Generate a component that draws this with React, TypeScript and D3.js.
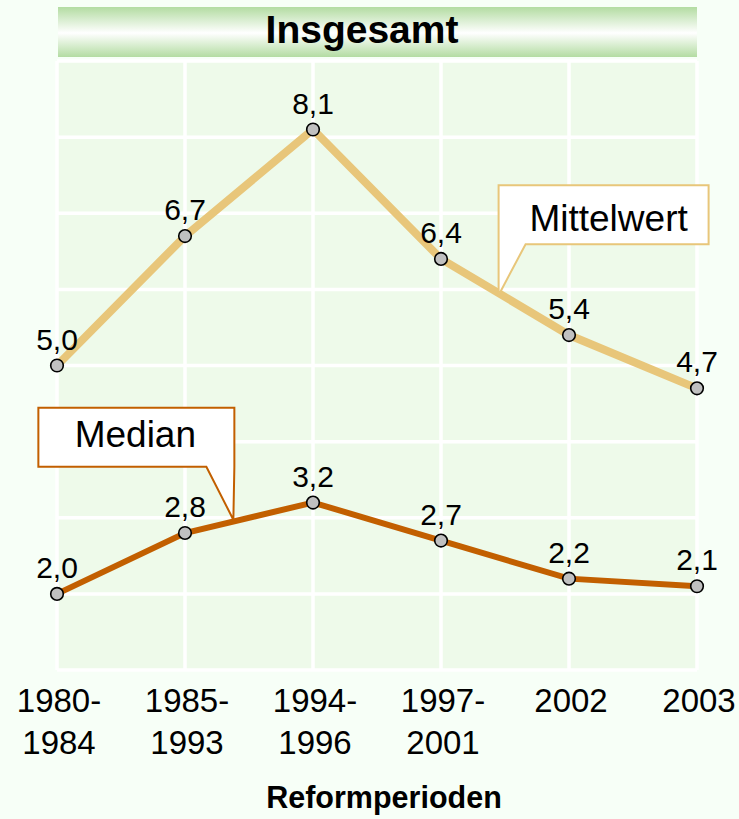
import { useEffect } from "react";
import * as d3 from "d3";

const periods = ["1980-1984", "1985-1993", "1994-1996", "1997-2001", "2002", "2003"];
const tickLines = [["1980-", "1984"], ["1985-", "1993"], ["1994-", "1996"], ["1997-", "2001"], ["2002"], ["2003"]];
const mittelwert = [5.0, 6.7, 8.1, 6.4, 5.4, 4.7];
const median = [2.0, 2.8, 3.2, 2.7, 2.2, 2.1];
const yTicks = [1, 2, 3, 4, 5, 6, 7, 8, 9];

const W = 739;
const H = 819;
const FONT = "'Liberation Sans', Arial, Helvetica, sans-serif";
const MEAN_COLOR = "#e8c67a";
const MEDIAN_COLOR = "#c25f00";

const fmt = (v: number) => v.toFixed(1).replace(".", ",");

export default function App() {
  useEffect(() => {
    document.body.style.margin = "0";
    document.body.style.background = "#f7fff7";
  }, []);

  const x = d3.scalePoint<string>().domain(periods).range([57, 697]);
  const y = d3.scaleLinear().domain([1, 9]).range([670, 61]);

  const line = d3
    .line<number>()
    .x((_, i) => x(periods[i])!)
    .y((d) => y(d));

  // point on a series between index i and i+1 at fraction t
  const along = (vals: number[], i: number, t: number) => {
    const x0 = x(periods[i])!;
    const x1 = x(periods[i + 1])!;
    return [x0 + (x1 - x0) * t, y(vals[i] + (vals[i + 1] - vals[i]) * t)];
  };

  const [mx, my] = along(median, 1, 0.37);
  const [ax, ay] = along(mittelwert, 3, 0.45);

  const medianCallout = [
    [mx - 194, my - 114],
    [mx + 2, my - 114],
    [mx + 2, my - 55],
    [mx + 1, my - 2],
    [mx - 26, my - 55],
    [mx - 194, my - 55],
  ];
  const meanCallout = [
    [ax, ay - 108],
    [ax + 210, ay - 108],
    [ax + 210, ay - 49],
    [ax + 27, ay - 49],
    [ax, ay + 2],
  ];

  const plotLeft = x(periods[0])!;
  const plotRight = x(periods[periods.length - 1])!;

  return (
    <svg width={W} height={H} style={{ display: "block", background: "#f7fff7" }} fontFamily={FONT}>
      <defs>
        <linearGradient id="titleGrad" x1="0" y1="0" x2="0" y2="1">
          <stop offset="0" stopColor="#b3dca2" />
          <stop offset="0.52" stopColor="#ffffff" />
          <stop offset="1" stopColor="#b3dca2" />
        </linearGradient>
      </defs>

      {/* title bar */}
      <rect x={plotLeft + 1} y={7} width={plotRight - plotLeft - 1} height={50} fill="url(#titleGrad)" />
      <text x={(plotLeft + plotRight) / 2 - 15} y={43} textAnchor="middle" fontWeight="bold" fontSize={39} fill="#000">
        Insgesamt
      </text>

      {/* plot background */}
      <rect x={plotLeft} y={y(9)} width={plotRight - plotLeft} height={y(1) - y(9)} fill="#eefaea" />
      {yTicks.map((t) => (
        <line key={"h" + t} x1={plotLeft} x2={plotRight} y1={y(t)} y2={y(t)} stroke="#fff" strokeWidth={3.5} />
      ))}
      {periods.map((p) => (
        <line key={"v" + p} x1={x(p)} x2={x(p)} y1={y(9)} y2={y(1)} stroke="#fff" strokeWidth={3.5} />
      ))}

      {/* series */}
      <path d={line(mittelwert)!} fill="none" stroke={MEAN_COLOR} strokeWidth={8} />
      <path d={line(median)!} fill="none" stroke={MEDIAN_COLOR} strokeWidth={6} />

      {/* callouts */}
      <path d={d3.line()(medianCallout as [number, number][])! + "Z"} fill="#fff" stroke={MEDIAN_COLOR} strokeWidth={2} />
      <text x={mx - 97} y={my - 75} textAnchor="middle" fontSize={37} fill="#000">Median</text>
      <path d={d3.line()(meanCallout as [number, number][])! + "Z"} fill="#fff" stroke={MEAN_COLOR} strokeWidth={2} />
      <text x={ax + 110} y={ay - 62} textAnchor="middle" fontSize={37} fill="#000">Mittelwert</text>

      {/* markers and value labels */}
      {[mittelwert, median].map((vals, si) =>
        vals.map((v, i) => (
          <g key={`${si}-${i}`}>
            <circle cx={x(periods[i])} cy={y(v)} r={6.3} fill="#c0c0c0" stroke="#000" strokeWidth={1.6} />
            <text x={x(periods[i])} y={y(v) - 16} textAnchor="middle" fontSize={30} fill="#000">
              {fmt(v)}
            </text>
          </g>
        ))
      )}

      {/* x axis labels */}
      {tickLines.map((lines, i) => (
        <text key={periods[i]} x={x(periods[i])! + 2} textAnchor="middle" fontSize={33} fill="#000">
          {lines.map((l, j) => (
            <tspan key={j} x={x(periods[i])! + 2} y={712 + j * 42}>{l}</tspan>
          ))}
        </text>
      ))}
      <text x={(plotLeft + plotRight) / 2 + 7} y={808} textAnchor="middle" fontWeight="bold" fontSize={30.5} fill="#000">
        Reformperioden
      </text>
    </svg>
  );
}
